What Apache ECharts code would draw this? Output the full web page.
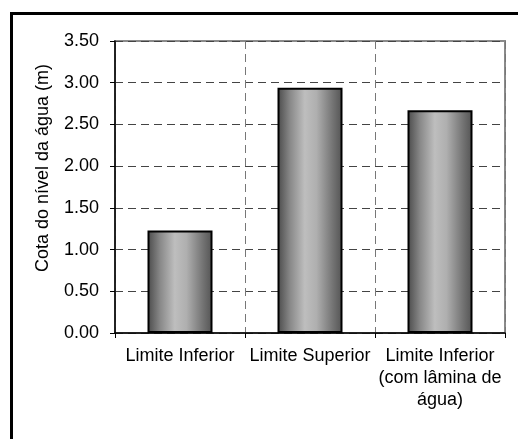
<!DOCTYPE html>
<html>
<head>
<meta charset="utf-8">
<script src="https://cdn.jsdelivr.net/npm/echarts@6/dist/echarts.min.js"></script>
<style>
  html, body { margin: 0; padding: 0; background: #fff; }
  #chart { width: 518px; height: 439px; }
</style>
</head>
<body>
<div id="chart"></div>
<script>
// Water level elevation for each limit case
const categories = ['Limite Inferior', 'Limite Superior', 'Limite Inferior\n(com lâmina de\nágua)'];
const waterLevel = [1.23, 2.94, 2.67];
const yTicks = { min: 0, max: 3.5, step: 0.5 };
const yTitle = 'Cota do nível da água (m)';

const FONT = '"Liberation Sans", Arial, sans-serif';

const barFill = new echarts.graphic.LinearGradient(0, 0, 1, 0, [
  { offset: 0, color: '#4a4a4a' },
  { offset: 0.2, color: '#8a8a8a' },
  { offset: 0.42, color: '#bebebe' },
  { offset: 0.6, color: '#afafaf' },
  { offset: 0.85, color: '#747474' },
  { offset: 1, color: '#535353' }
]);

const chart = echarts.init(document.getElementById('chart'), null, { renderer: 'canvas' });

chart.setOption({
  animation: false,
  backgroundColor: '#ffffff',
  grid: {
    left: 115, right: 13, top: 41, bottom: 106,
    show: true, borderColor: '#8a8a8a', borderWidth: 2, backgroundColor: 'transparent'
  },
  graphic: [
    {
      type: 'rect',
      shape: { x: 11.5, y: 13.5, width: 530, height: 450 },
      style: { fill: 'none', stroke: '#000', lineWidth: 3 },
      z: 100
    },
    {
      type: 'text',
      x: 34, y: 168,
      rotation: Math.PI / 2,
      style: {
        text: yTitle,
        font: '18px ' + FONT,
        fill: '#000',
        align: 'center',
        verticalAlign: 'top'
      }
    }
  ],
  xAxis: {
    type: 'category',
    data: categories,
    boundaryGap: true,
    axisLine: { show: true, lineStyle: { color: '#000', width: 1.5 } },
    axisTick: { show: true, length: 5, lineStyle: { color: '#000' } },
    axisLabel: {
      color: '#000', fontFamily: FONT, fontSize: 18, lineHeight: 22,
      margin: 12, interval: 0, align: 'center'
    },
    splitLine: { show: true, lineStyle: { color: '#777', type: [8, 5], width: 1 } }
  },
  yAxis: {
    type: 'value',
    min: yTicks.min, max: yTicks.max, interval: yTicks.step,
    axisLine: { show: true, lineStyle: { color: '#000', width: 1.5 } },
    axisTick: { show: true, length: 5, inside: false, lineStyle: { color: '#000' } },
    axisLabel: {
      color: '#000', fontFamily: FONT, fontSize: 18, margin: 16,
      formatter: v => v.toFixed(2)
    },
    splitLine: { show: true, lineStyle: { color: '#444', type: [8, 5], width: 1 } }
  },
  series: [{
    type: 'bar',
    data: waterLevel,
    barWidth: '50%',
    itemStyle: { color: barFill, borderColor: '#000', borderWidth: 2 }
  }]
});
</script>
</body>
</html>
